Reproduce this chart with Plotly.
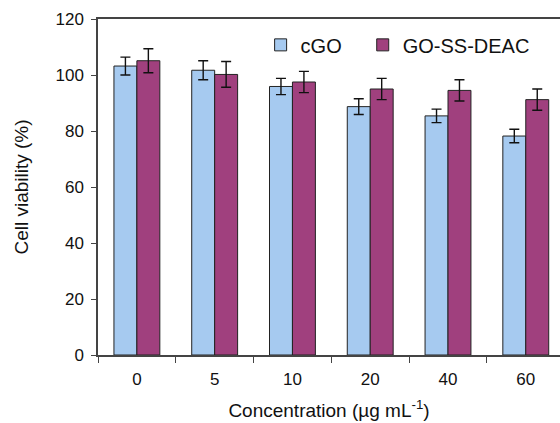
import plotly.graph_objects as go

categories = ["0", "5", "10", "20", "40", "60"]
cgo_values = [103.2, 101.7, 95.9, 88.7, 85.4, 78.2]
cgo_errors = [3.2, 3.4, 2.9, 2.8, 2.4, 2.4]
deac_values = [105.1, 100.2, 97.5, 95.0, 94.5, 91.2]
deac_errors = [4.3, 4.6, 3.8, 3.8, 3.8, 3.8]
y_ticks = [0, 20, 40, 60, 80, 100, 120]

FONT = "Liberation Sans, Arial, sans-serif"
AXIS_COLOR = "#444444"

fig = go.Figure()
fig.add_trace(go.Bar(
    name="cGO", x=categories, y=cgo_values, legend="legend",
    marker=dict(color="#A6CAF0", line=dict(color="#222222", width=1)),
    error_y=dict(type="data", array=cgo_errors, color="#111111", thickness=1.4, width=5),
))
fig.add_trace(go.Bar(
    name="GO-SS-DEAC", x=categories, y=deac_values, legend="legend2",
    marker=dict(color="#A0407E", line=dict(color="#222222", width=1)),
    error_y=dict(type="data", array=deac_errors, color="#111111", thickness=1.4, width=5),
))

legend_common = dict(
    orientation="h", yanchor="middle", y=0.923, xanchor="left",
    font=dict(size=20, family=FONT, color="#111111"),
    bgcolor="rgba(0,0,0,0)",
)

fig.update_layout(
    width=560, height=423,
    margin=dict(l=98, r=0, t=19, b=68),
    paper_bgcolor="white", plot_bgcolor="white",
    barmode="group", bargap=0.41, bargroupgap=0,
    font=dict(family=FONT, color="#111111", size=17),
    showlegend=True,
    legend=dict(x=0.352, **legend_common),
    legend2=dict(x=0.573, **legend_common),
    xaxis=dict(
        type="category", range=[-0.5, 5.44],
        showline=True, linecolor=AXIS_COLOR, linewidth=1.5, mirror=True,
        ticks="outside", tickson="boundaries", ticklen=6, tickcolor=AXIS_COLOR, tickwidth=1.2,
        tickfont=dict(size=17), ticklabelstandoff=8,
        title=dict(text="Concentration (µg mL<sup>-1</sup>)", font=dict(size=19), standoff=16),
        showgrid=False, zeroline=False,
    ),
    yaxis=dict(
        range=[0, 120], tickvals=y_ticks,
        showline=True, linecolor=AXIS_COLOR, linewidth=1.5,
        ticks="outside", ticklen=5, tickcolor=AXIS_COLOR, tickwidth=1.2,
        tickfont=dict(size=17), ticklabelstandoff=4,
        title=dict(text="Cell viability (%)", font=dict(size=19), standoff=22),
        showgrid=False, zeroline=False,
    ),
)

fig.write_html("out.html")
